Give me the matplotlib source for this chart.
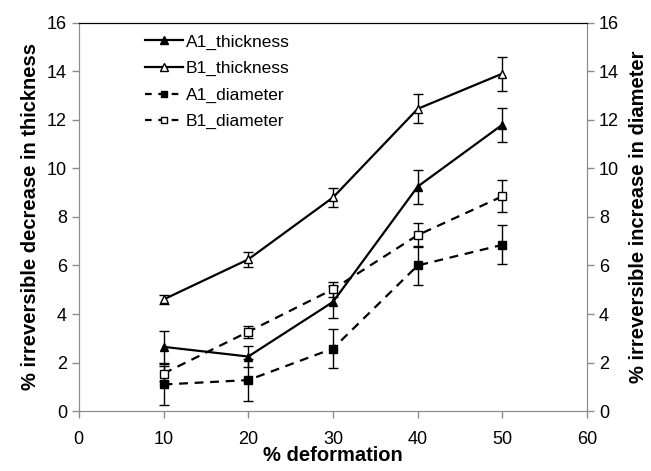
import matplotlib
matplotlib.use("Agg")
import matplotlib.pyplot as plt
from matplotlib.lines import Line2D

plt.rcParams['font.family'] = ['Liberation Sans', 'DejaVu Sans']

deformation = [10, 20, 30, 40, 50]

a1_thickness = [2.65, 2.25, 4.5, 9.25, 11.8]
a1_thickness_err = [0.65, 0.45, 0.65, 0.7, 0.7]
b1_thickness = [4.6, 6.25, 8.8, 12.45, 13.9]
b1_thickness_err = [0.2, 0.3, 0.4, 0.6, 0.7]

a1_diameter = [1.1, 1.28, 2.58, 6.0, 6.85]
a1_diameter_err = [0.85, 0.85, 0.8, 0.8, 0.8]
b1_diameter = [1.55, 3.27, 5.02, 7.25, 8.85]
b1_diameter_err = [0.3, 0.25, 0.3, 0.5, 0.65]

gray = "#8c8c8c"

fig = plt.figure(figsize=(6.51, 4.71), dpi=100)
ax = fig.add_axes([0.121, 0.127, 0.781, 0.825])
ax2 = ax.twinx()

ax.errorbar(deformation, a1_thickness, yerr=a1_thickness_err, color="black", lw=1.6,
            marker="^", ms=6, mfc="black", capsize=3.5, elinewidth=1, ecolor="black")
ax.errorbar(deformation, b1_thickness, yerr=b1_thickness_err, color="black", lw=1.6,
            marker="^", ms=6, mfc="white", capsize=3.5, elinewidth=1, ecolor="black")
ax2.errorbar(deformation, a1_diameter, yerr=a1_diameter_err, color="black", lw=1.6, ls=(0, (4, 3)),
             marker="s", ms=6, mfc="black", capsize=3.5, elinewidth=1, ecolor="black")
ax2.errorbar(deformation, b1_diameter, yerr=b1_diameter_err, color="black", lw=1.6, ls=(0, (4, 3)),
             marker="s", ms=6, mfc="white", capsize=3.5, elinewidth=1, ecolor="black")

for a in (ax, ax2):
    a.set_xlim(0, 60)
    a.set_ylim(0, 16)
    a.set_yticks(range(0, 17, 2))
    for s in ("left", "right", "bottom"):
        a.spines[s].set_color(gray)
    a.spines["top"].set_color("black")
    a.tick_params(colors="black", labelsize=13, length=5, width=1, color=gray, direction="out")

ax.set_xticks(range(0, 61, 10))
ax.tick_params(axis="x", pad=9)
ax.set_xlabel("% deformation", fontsize=14.5, fontweight="bold", labelpad=-1)
ax.set_ylabel("% irreversible decrease in thickness", fontsize=14.5, fontweight="bold", labelpad=5)
ax2.set_ylabel("% irreversible increase in diameter", fontsize=14.5, fontweight="bold", labelpad=7)

handles = [
    Line2D([], [], color="black", lw=1.6, marker="^", ms=6, mfc="black"),
    Line2D([], [], color="black", lw=1.6, marker="^", ms=6, mfc="white"),
    Line2D([], [], color="black", lw=1.6, ls=(0, (3, 3)), marker="s", ms=5, mfc="black"),
    Line2D([], [], color="black", lw=1.6, ls=(0, (3, 3)), marker="s", ms=5, mfc="white"),
]
labels = ["A1_thickness", "B1_thickness", "A1_diameter", "B1_diameter"]
ax.legend(handles, labels, loc="upper left", bbox_to_anchor=(0.1, 1.01), frameon=False,
          fontsize=12.5, handlelength=2.2, handletextpad=0.15, labelspacing=0.65)

plt.savefig("out.png")
